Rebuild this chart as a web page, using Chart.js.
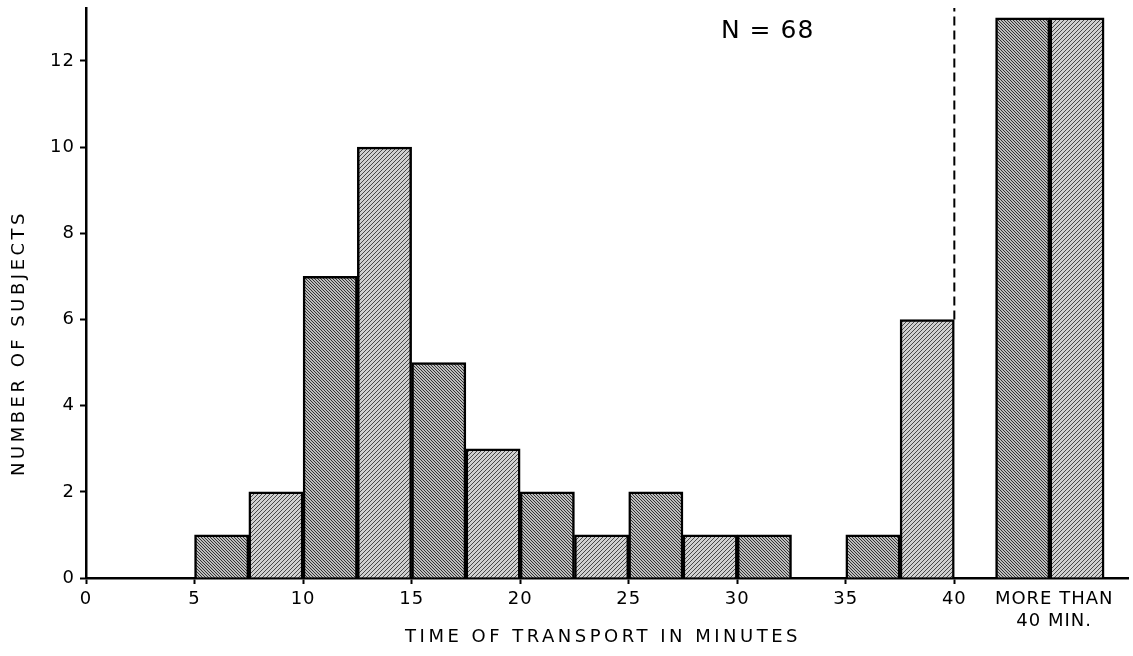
<!DOCTYPE html>
<html>
<head>
<meta charset="utf-8">
<script src="https://cdn.jsdelivr.net/npm/chart.js@4.4.1/dist/chart.umd.min.js"></script>
<style>
  html, body { margin: 0; padding: 0; background: #fff; }
  #wrap { width: 1133px; height: 656px; }
</style>
</head>
<body>
<div id="wrap"><canvas id="hist"></canvas></div>
<script>
// histogram bins (2.5 min wide), value = start of bin
const binStarts = [5, 7.5, 10, 12.5, 15, 17.5, 20, 22.5, 25, 27.5, 30, 32.5, 35, 37.5];
const binCounts = [1, 2, 7, 10, 5, 3, 2, 1, 2, 1, 1, 0, 1, 6];
// the two "more than 40 min" columns, placed after a gap
const overStarts = [41.9, 44.4];
const overCounts = [13, 13];
const overLabel = ['MORE THAN', '40 MIN.'];
const xTicks = [0, 5, 10, 15, 20, 25, 30, 35, 40];
const yTicks = [0, 2, 4, 6, 8, 10, 12];
const binWidth = 2.5;
const nLabel = 'N = 68';
const xTitle = 'TIME OF TRANSPORT IN MINUTES';
const yTitle = 'NUMBER OF SUBJECTS';

const FONT = "'DejaVu Sans', sans-serif";

function hatch(back, dir) {
  const s = back ? 3 : 4;
  const c = document.createElement('canvas');
  c.width = s; c.height = s;
  const g = c.getContext('2d');
  g.fillStyle = back ? '#bcbcbc' : '#d0d0d0';
  g.fillRect(0, 0, s, s);
  g.fillStyle = back ? '#333' : '#484848';
  for (let i = 0; i < s; i++) {
    g.fillRect(dir ? i : s - 1 - i, i, 1, 1);
  }
  return g.createPattern(c, 'repeat');
}
const ctx0 = document.getElementById('hist').getContext('2d');
const darkFill = hatch(true, true);
const lightFill = hatch(false, false);

const points = binStarts.map((s, i) => ({x: s + binWidth / 2, y: binCounts[i]}))
  .concat(overStarts.map((s, i) => ({x: s + binWidth / 2, y: overCounts[i]})));
const fills = points.map((p, i) => i % 2 === 0 ? darkFill : lightFill);

const overTick = overStarts[1] + 0.2;

// spaced-out lettering like the original stencil text
const spacing = {
  id: 'spacing',
  beforeDraw(chart) { chart.ctx.letterSpacing = '1px'; },
  afterDraw(chart) { chart.ctx.letterSpacing = '0px'; }
};

const extras = {
  id: 'extras',
  afterDatasetsDraw(chart) {
    const {ctx, scales: {x, y}} = chart;
    ctx.save();
    // dashed divider above the 40 min mark
    ctx.strokeStyle = '#000';
    ctx.lineWidth = 2;
    ctx.setLineDash([9, 5]);
    ctx.beginPath();
    ctx.moveTo(x.getPixelForValue(40), y.getPixelForValue(binCounts[binCounts.length - 1]));
    ctx.lineTo(x.getPixelForValue(40), y.getPixelForValue(y.max));
    ctx.stroke();
    ctx.setLineDash([]);
    ctx.fillStyle = '#000';
    ctx.textAlign = 'center';
    ctx.textBaseline = 'middle';
    // N label
    ctx.letterSpacing = '1px';
    ctx.font = `25px ${FONT}`;
    ctx.fillText(nLabel, x.getPixelForValue(31.4), y.getPixelForValue(12.68));
    // axis titles
    ctx.letterSpacing = '3.5px';
    ctx.font = `18px ${FONT}`;
    ctx.fillText(xTitle, 603, 637);
    ctx.translate(19, 343);
    ctx.rotate(-Math.PI / 2);
    ctx.fillText(yTitle, 0, 0);
    ctx.restore();
  }
};

new Chart(ctx0, {
  type: 'bar',
  data: {
    datasets: [{
      data: points,
      backgroundColor: fills,
      borderColor: '#000',
      borderWidth: 2.5,
      borderSkipped: 'bottom',
      barPercentage: 1,
      categoryPercentage: 1,
    }]
  },
  options: {
    responsive: true,
    maintainAspectRatio: false,
    animation: false,
    events: [],
    layout: { padding: { top: 8, right: 5 } },
    plugins: { legend: { display: false }, tooltip: { enabled: false } },
    scales: {
      x: {
        type: 'linear',
        offset: false,
        min: 0,
        max: 48,
        afterBuildTicks: s => { s.ticks = xTicks.concat([overTick]).map(v => ({value: v})); },
        afterFit: s => { s.height = 78; },
        ticks: {
          color: '#000',
          font: { family: FONT, size: 18, lineHeight: 1.25 },
          padding: 4,
          maxRotation: 0,
          autoSkip: false,
          callback: v => v === overTick ? overLabel : String(v),
        },
        grid: {
          offset: false,
          drawOnChartArea: false,
          tickLength: 6,
          tickWidth: 2,
          tickColor: c => c.tick && c.tick.value === overTick ? 'rgba(0,0,0,0)' : '#000',
        },
        border: { color: '#000', width: 2.5 },
      },
      y: {
        min: 0,
        max: 13.23,
        afterBuildTicks: s => { s.ticks = yTicks.map(v => ({value: v})); },
        afterFit: s => { s.width = 86; s.paddingTop = 0; s.paddingBottom = 0; },
        ticks: {
          color: '#000',
          font: { family: FONT, size: 18 },
          padding: 5,
        },
        grid: {
          drawOnChartArea: false,
          tickLength: 6,
          tickWidth: 2,
          tickColor: '#000',
        },
        border: { color: '#000', width: 2.5 },
      }
    }
  },
  plugins: [spacing, extras]
});
</script>
</body>
</html>
